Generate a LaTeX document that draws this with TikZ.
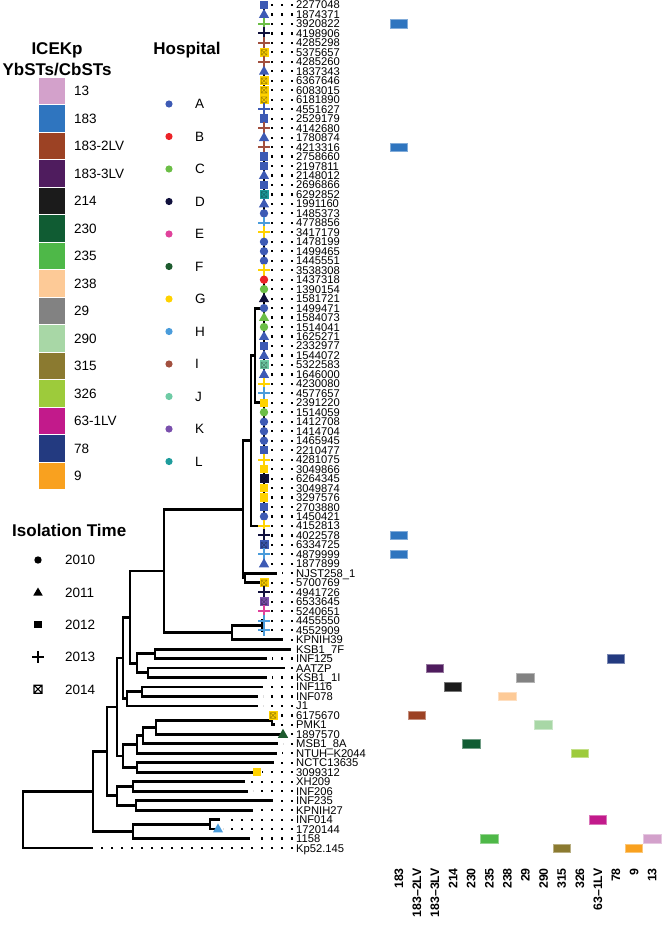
\documentclass[tikz,border=0pt]{standalone}
\usepackage{fontspec}
\setmainfont{Liberation Sans}
\usetikzlibrary{calc}
\definecolor{hA}{HTML}{3D5AB4}
\definecolor{hB}{HTML}{EC2227}
\definecolor{hC}{HTML}{6BBE46}
\definecolor{hD}{HTML}{10103C}
\definecolor{hE}{HTML}{E0429B}
\definecolor{hF}{HTML}{1D5B2E}
\definecolor{hG}{HTML}{FFD200}
\definecolor{hH}{HTML}{4A9CDB}
\definecolor{hI}{HTML}{A2503F}
\definecolor{hJ}{HTML}{6ECBA5}
\definecolor{hK}{HTML}{7A50AD}
\definecolor{hL}{HTML}{1E9C9C}
\definecolor{k13}{HTML}{D3A1CB}
\definecolor{k183}{HTML}{2F75BF}
\definecolor{k1832}{HTML}{9C4224}
\definecolor{k1833}{HTML}{4F1C5E}
\definecolor{k214}{HTML}{1B1B1B}
\definecolor{k230}{HTML}{105C33}
\definecolor{k235}{HTML}{4EB848}
\definecolor{k238}{HTML}{FDCA97}
\definecolor{k29}{HTML}{828282}
\definecolor{k290}{HTML}{A8D7A6}
\definecolor{k315}{HTML}{8B7A30}
\definecolor{k326}{HTML}{9DCB3B}
\definecolor{k631}{HTML}{C21A8B}
\definecolor{k78}{HTML}{233A80}
\definecolor{k9}{HTML}{F9A11F}
\tikzset{
  pics/mcirc/.style={code={\fill (0,0) circle (4.2);}},
  pics/mtri/.style={code={\fill (0,-5.6) -- (5.1,3.4) -- (-5.1,3.4) -- cycle;}},
  pics/msq/.style={code={\fill (-4.2,-4.2) rectangle (4.2,4.2);}},
  pics/mplus/.style={code={\draw[line width=2pt] (-6,0) -- (6,0) (0,-6) -- (0,6);}},
  pics/mbox/.style={code={\fill (-4.5,-4.5) rectangle (4.5,4.5);
      \draw[line width=0.6pt, black, opacity=0.35] (-2.8,-2.8) rectangle (2.8,2.8) (-2.8,-2.8) -- (2.8,2.8) (-2.8,2.8) -- (2.8,-2.8);}},
  pics/lcirc/.style={code={\fill (0,0) circle (3.7);}},
  pics/ltri/.style={code={\fill (0,-4.8) -- (4.7,3.2) -- (-4.7,3.2) -- cycle;}},
  pics/lsq/.style={code={\fill (-3.7,-3.7) rectangle (3.7,3.7);}},
  pics/lplus/.style={code={\draw[line width=1.3pt] (-6,0) -- (6,0) (0,-6) -- (0,6);}},
  pics/lboxx/.style={code={\draw[line width=1.1pt] (-4,-4) rectangle (4,4) (-4,-4) -- (4,4) (-4,4) -- (4,-4);}},
}
\begin{document}
\begin{tikzpicture}[x=1pt,y=-1pt,
  branch/.style={line width=2.8pt, line join=miter},
  stem/.style={line width=1.6pt},
  leader/.style={line width=2.2pt, dash pattern=on 2.2pt off 7.8pt},
  tiplab/.style={font=\fontsize{11.2}{11.5}\selectfont, inner sep=0pt, anchor=west, text height=8pt, text depth=0pt},
  collab/.style={font=\fontsize{12.3}{13}\selectfont\bfseries, inner sep=0pt, rotate=90, anchor=east, text height=8.8pt, text depth=0pt},
  ttl/.style={font=\fontsize{17}{18}\selectfont\bfseries, inner sep=0pt, text height=12.2pt, text depth=0pt},
  llab/.style={font=\fontsize{13.5}{14}\selectfont, inner sep=0pt, anchor=west, text height=9.7pt, text depth=0pt},
  legbox/.style={rectangle, minimum width=27.5pt, minimum height=27.5pt, inner sep=0pt, outer sep=0pt, draw=white, line width=0.8pt},
  hdot/.style={circle, minimum size=7.2pt, inner sep=0pt},
  hm/.style={rectangle, minimum width=17.5pt, minimum height=8.5pt, inner sep=0pt, line width=0.5pt},
]
\useasboundingbox (0,0) rectangle (661,928);

% ---------- tip coordinates ----------
\foreach \i in {1,...,90}{\coordinate (t\i) at (264,{5+(\i-1)*9.472});}
\foreach \i/\tx in {61/277,68/283,69/291,70/267,71/285,72/267,73/263,74/258,75/258,76/273,77/275,78/283,79/278,80/277,81/274,82/257,83/245,84/248,85/273,86/253,87/220,88/218,89/250,90/93}
  {\coordinate (t\i) at (\tx,{5+(\i-1)*9.472});}

% ---------- internal nodes ----------
\coordinate (n255) at (255,355.4);
\coordinate (n251) at (251,440.7);
\coordinate (n245) at (245,578.0);
\coordinate (n243) at (243,509.4);
\coordinate (nh) at (262,625.4);
\coordinate (n232) at (232,632.5);
\coordinate (n164) at (164,571.0);
\coordinate (n155) at (155,653.8);
\coordinate (n148) at (148,672.7);
\coordinate (n137) at (137,663.3);
\coordinate (n130) at (130,617.1);
\coordinate (n142) at (142,691.7);
\coordinate (n127) at (127,698.8);
\coordinate (n123) at (123,658.0);
\coordinate (n272) at (272,720.1);
\coordinate (n156) at (156,727.2);
\coordinate (n143) at (143,735.5);
\coordinate (n137b) at (137,744.4);
\coordinate (n137c) at (137,767.4);
\coordinate (n123b) at (123,755.9);
\coordinate (n117) at (117,707.0);
\coordinate (n133) at (133,786.3);
\coordinate (n136) at (136,805.3);
\coordinate (n117b) at (117,795.8);
\coordinate (n107) at (107,751.4);
\coordinate (n210) at (210,824.2);
\coordinate (n133b) at (133,831.3);
\coordinate (n93) at (93,791.4);
\coordinate (root) at (23,819.6);

% ---------- branches ----------
\foreach \p/\c in {n255/t33,n255/t43,n251/n255,n251/t56,n245/t61,n245/t62,n243/n251,n243/n245,
  nh/t66,nh/t67,n232/nh,n232/t68,n164/n243,n164/n232,n155/t69,n155/t70,n148/t71,n148/t72,
  n137/n155,n137/n148,n130/n164,n130/n137,n142/t73,n142/t74,n127/n142,n127/t75,n123/n130,n123/n127,
  n272/t76,n272/t77,n156/n272,n156/t78,n143/n156,n143/t79,n137b/n143,n137b/t80,n137c/t81,n137c/t82,
  n123b/n137b,n123b/n137c,n117/n123,n117/n123b,n133/t83,n133/t84,n136/t85,n136/t86,n117b/n133,n117b/n136,
  n107/n117,n107/n117b,n210/t87,n210/t88,n133b/n210,n133b/t89,n93/n107,n93/n133b,root/n93,root/t90}
  {\draw[branch] (\p) |- (\c);}
\draw[stem] (t1) -- (t60);
\draw[stem] (t62) -- (t67);

% ---------- tip labels ----------
\foreach \i/\lab in {1/2277048,2/1874371,3/3920822,4/4198906,5/4285298,6/5375657,7/4285260,8/1837343,9/6367646,10/6083015,
  11/6181890,12/4551627,13/2529179,14/4142680,15/1780874,16/4213316,17/2758660,18/2197811,19/2148012,20/2696866,
  21/6292852,22/1991160,23/1485373,24/4778856,25/3417179,26/1478199,27/1499465,28/1445551,29/3538308,30/1437318,
  31/1390154,32/1581721,33/1499471,34/1584073,35/1514041,36/1625271,37/2332977,38/1544072,39/5322583,40/1646000,
  41/4230080,42/4577657,43/2391220,44/1514059,45/1412708,46/1414704,47/1465945,48/2210477,49/4281075,50/3049866,
  51/6264345,52/3049874,53/3297576,54/2703880,55/1450421,56/4152813,57/4022578,58/6334725,59/4879999,60/1877899,
  61/NJST258\_1,62/5700769,63/4941726,64/6533645,65/5240651,66/4455550,67/4552909,68/KPNIH39,69/KSB1\_7F,70/INF125,
  71/AATZP,72/KSB1\_1I,73/INF116,74/INF078,75/J1,76/6175670,77/PMK1,78/1897570,79/MSB1\_8A,80/NTUH–K2044,
  81/NCTC13635,82/3099312,83/XH209,84/INF206,85/INF235,86/KPNIH27,87/INF014,88/1720144,89/1158,90/Kp52.145}
  {\node[tiplab] (l\i) at (296,{5+(\i-1)*9.472}) {\lab};}

% ---------- dotted leaders ----------
\foreach \i in {1,...,90}{
  \ifnum\i=69\else
    \draw[leader] ([xshift=-3pt]l\i.west) -- ([xshift=5pt]t\i);
  \fi}

% ---------- tip markers ----------
\foreach \i/\m/\c in {1/msq/hA,2/mtri/hA,3/mplus/hC,4/mplus/hD,5/mplus/hI,6/mbox/hG,7/mplus/hI,8/mtri/hA,9/mbox/hG,10/mbox/hG,
  11/mbox/hG,12/mplus/hA,13/msq/hA,14/mplus/hI,15/mtri/hA,16/mplus/hI,17/msq/hA,18/msq/hA,19/mtri/hA,20/msq/hA,
  21/mbox/hL,22/mtri/hA,23/mcirc/hA,24/mplus/hH,25/mplus/hG,26/mcirc/hA,27/mcirc/hA,28/mcirc/hA,29/mplus/hG,30/mcirc/hB,
  31/mcirc/hC,32/mtri/hD,33/mcirc/hA,34/mtri/hC,35/mcirc/hC,36/mtri/hA,37/msq/hA,38/mtri/hA,39/mbox/hJ,40/mtri/hA,
  41/mplus/hG,42/mplus/hH,43/msq/hG,44/mcirc/hC,45/mcirc/hA,46/mcirc/hA,47/mcirc/hA,48/msq/hA,49/mplus/hG,50/msq/hG,
  51/mbox/hD,52/msq/hG,53/msq/hG,54/msq/hA,55/mcirc/hA,56/mplus/hG,57/mplus/hD,58/mbox/hA,59/mplus/hH,60/mtri/hA,
  62/mbox/hG,63/mplus/hD,64/mbox/hK,65/mplus/hE,66/mplus/hH,67/mplus/hH,76/mbox/hG,78/mtri/hF,82/msq/hG,88/mtri/hH}
  {\pic[color=\c] at (t\i) {\m};}

% ---------- heatmap ----------
\foreach \t/\k/\c in {3/0/k183,16/0/k183,57/0/k183,59/0/k183,70/12/k78,71/2/k1833,72/7/k29,73/3/k214,74/6/k238,
  76/1/k1832,77/8/k290,79/4/k230,80/10/k326,87/11/k631,89/5/k235,89/14/k13,90/9/k315,90/13/k9}
  {\node[hm, fill=\c, draw=\c!60!white] (hm\t-\k) at ({398.6+\k*18.1},{5+(\t-1)*9.472}) {};}

% ---------- column labels ----------
\foreach \k/\lab in {0/183,1/183–2LV,2/183–3LV,3/214,4/230,5/235,6/238,7/29,8/290,9/315,10/326,11/63–1LV,12/78,13/9,14/13}
  {\node[collab] (cl\k) at ({398.6+\k*18.1},868) {\lab};}

% ---------- ICEKp legend ----------
\node[ttl] (ttlice1) at (57,48.5) {ICEKp};
\node[ttl] (ttlice2) at (57,69) {YbSTs/CbSTs};
\foreach \k/\c/\lab in {0/k13/13,1/k183/183,2/k1832/183-2LV,3/k1833/183-3LV,4/k214/214,5/k230/230,6/k235/235,7/k238/238,
  8/k29/29,9/k290/290,10/k315/315,11/k326/326,12/k631/63-1LV,13/k78/78,14/k9/9}
  {\node[legbox, fill=\c] (lb\k) at (51.75,{90.75+\k*27.5}) {};
   \node[llab] (lt\k) at (74,{90.75+\k*27.5}) {\lab};}

% ---------- Hospital legend ----------
\node[ttl] (ttlhosp) at (187,48) {Hospital};
\foreach \k/\c/\lab in {0/hA/A,1/hB/B,2/hC/C,3/hD/D,4/hE/E,5/hF/F,6/hG/G,7/hH/H,8/hI/I,9/hJ/J,10/hK/K,11/hL/L}
  {\node[hdot, fill=\c] (hd\k) at (169,{104+\k*32.5}) {};
   \node[llab] (hl\k) at (195,{104+\k*32.5}) {\lab};}

% ---------- Isolation time legend ----------
\node[ttl, anchor=west] (ttltime) at (12,530) {Isolation Time};
\foreach \k/\m/\lab in {0/lcirc/2010,1/ltri/2011,2/lsq/2012,3/lplus/2013,4/lboxx/2014}
  {\pic[color=black] at (38,{560+\k*32.3}) {\m};
   \node[llab] (yl\k) at (65,{560+\k*32.3}) {\lab};}
\end{tikzpicture}
\end{document}
